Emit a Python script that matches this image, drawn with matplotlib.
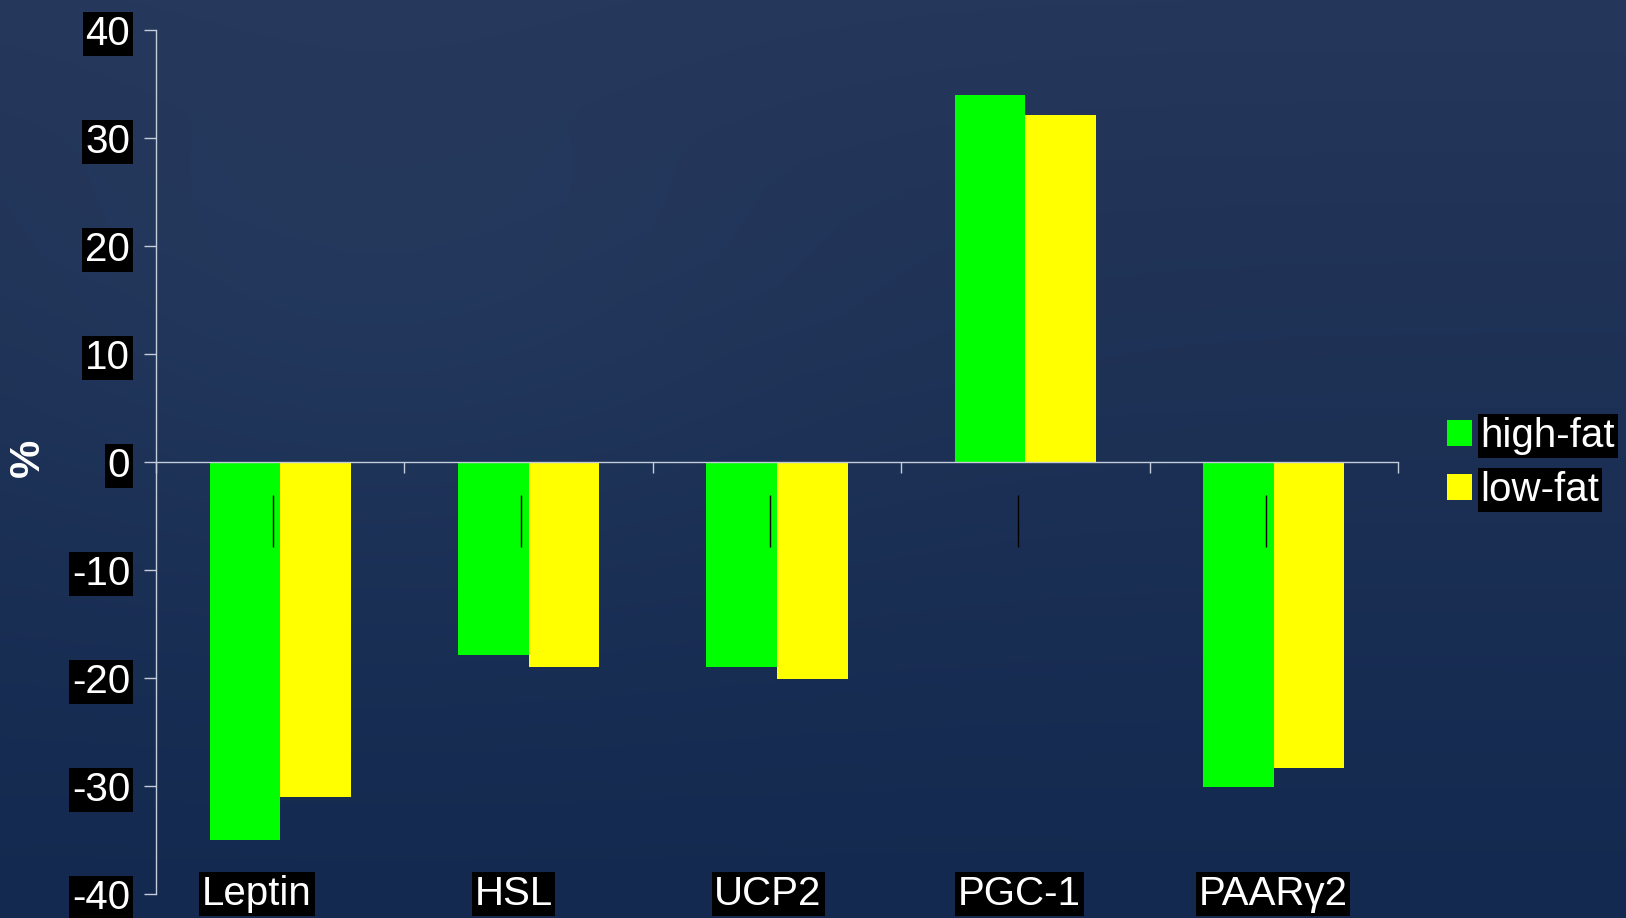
"""Percent change in adipose gene expression, high-fat vs low-fat diet."""

import matplotlib.pyplot as plt
import numpy as np
from matplotlib.patches import Patch

genes = ["Leptin", "HSL", "UCP2", "PGC-1", "PAAR\u03b32"]
high_fat = [-35.0, -17.9, -19.0, 34.0, -30.1]
low_fat = [-31.0, -19.0, -20.1, 32.1, -28.3]
# stray error-bar stubs left in the original slide
err_top = [-3.1, -3.1, -3.1, -3.1, -3.1]
err_bottom = [-7.9, -7.9, -7.9, -7.9, -7.9]
y_ticks = [40, 30, 20, 10, 0, -10, -20, -30, -40]
y_labels = ["40", "30", "20", "10", "0", "-10", "-20", "-30", "-40"]

W_PX, H_PX = 1626, 918
GREEN = "#00ff00"
YELLOW = "#ffff00"
AXIS = "#c5ccda"
FS = 29
BAR_W = 0.284
ERR_DX = -0.03
LABEL_DX = [-0.093, -0.061, -0.036, -0.023, -0.003]
BOX = dict(facecolor="black", edgecolor="none", pad=2)

plt.rcParams["font.family"] = ["Liberation Sans", "DejaVu Sans"]

fig = plt.figure(figsize=(W_PX / 100, H_PX / 100), dpi=100)

# navy gradient background with a faint glow top-left
bg = fig.add_axes([0, 0, 1, 1], zorder=-10)
yy, xx = np.mgrid[0:H_PX, 0:W_PX]
t = (yy / (H_PX - 1))[..., None]
top = np.array([37, 55, 90], dtype=float)
bot = np.array([19, 41, 79], dtype=float)
img = top * (1 - t) + bot * t
glow = np.exp(-(((xx - 380) / 420) ** 2 + ((yy - 300) / 300) ** 2))
img += glow[..., None] * np.array([4, 5, 6])
bg.imshow(np.clip(img, 0, 255).astype(np.uint8), aspect="auto")
bg.axis("off")

ax = fig.add_axes([156 / W_PX, 1 - 894 / H_PX, (1398 - 156) / W_PX, (894 - 29.7) / H_PX])
ax.set_facecolor("none")

x = np.arange(len(genes))
ax.bar(x - BAR_W / 2, high_fat, BAR_W, color=GREEN, zorder=2)
ax.bar(x + BAR_W / 2, low_fat, BAR_W, color=YELLOW, zorder=2)
ax.vlines(x + ERR_DX, err_bottom, err_top, color="black", lw=1, zorder=3)

ax.set_xlim(-0.5, len(genes) - 0.5)
ax.set_ylim(-40, 40)

for side in ("top", "right"):
    ax.spines[side].set_visible(False)
ax.spines["bottom"].set_position(("data", 0))
for side in ("left", "bottom"):
    ax.spines[side].set_color(AXIS)
    ax.spines[side].set_linewidth(1.0)
    ax.spines[side].set_zorder(4)

ax.set_xticks(np.arange(-0.5, len(genes), 1.0))
ax.tick_params(axis="x", direction="out", length=8, width=1, color=AXIS, labelbottom=False)

ax.set_yticks(y_ticks, y_labels)
ax.tick_params(axis="y", direction="out", length=8.6, width=1, color=AXIS,
               labelsize=FS, labelcolor="white", pad=10)
for lbl in ax.get_yticklabels():
    lbl.set_bbox(BOX)

for i, g in enumerate(genes):
    ax.text(i + LABEL_DX[i], -40, g, ha="center", va="center", fontsize=FS,
            color="white", bbox=BOX, clip_on=False, zorder=5)

fig.text(28 / W_PX, 1 - 458 / H_PX, "%", rotation=90, fontsize=31, fontweight="bold",
         color="white", ha="center", va="center")

handles = [Patch(facecolor=GREEN, label="high-fat"), Patch(facecolor=YELLOW, label="low-fat")]
leg = fig.legend(handles=handles, loc="center left",
                 bbox_to_anchor=(1446.7 / W_PX, 1 - 463 / H_PX), frameon=False,
                 fontsize=FS, handlelength=0.62, handleheight=0.62, handletextpad=0.22,
                 labelspacing=0.4, borderpad=0, borderaxespad=0)
for txt in leg.get_texts():
    txt.set_color("white")
    txt.set_bbox(BOX)

fig.savefig("out.png", dpi=100)
